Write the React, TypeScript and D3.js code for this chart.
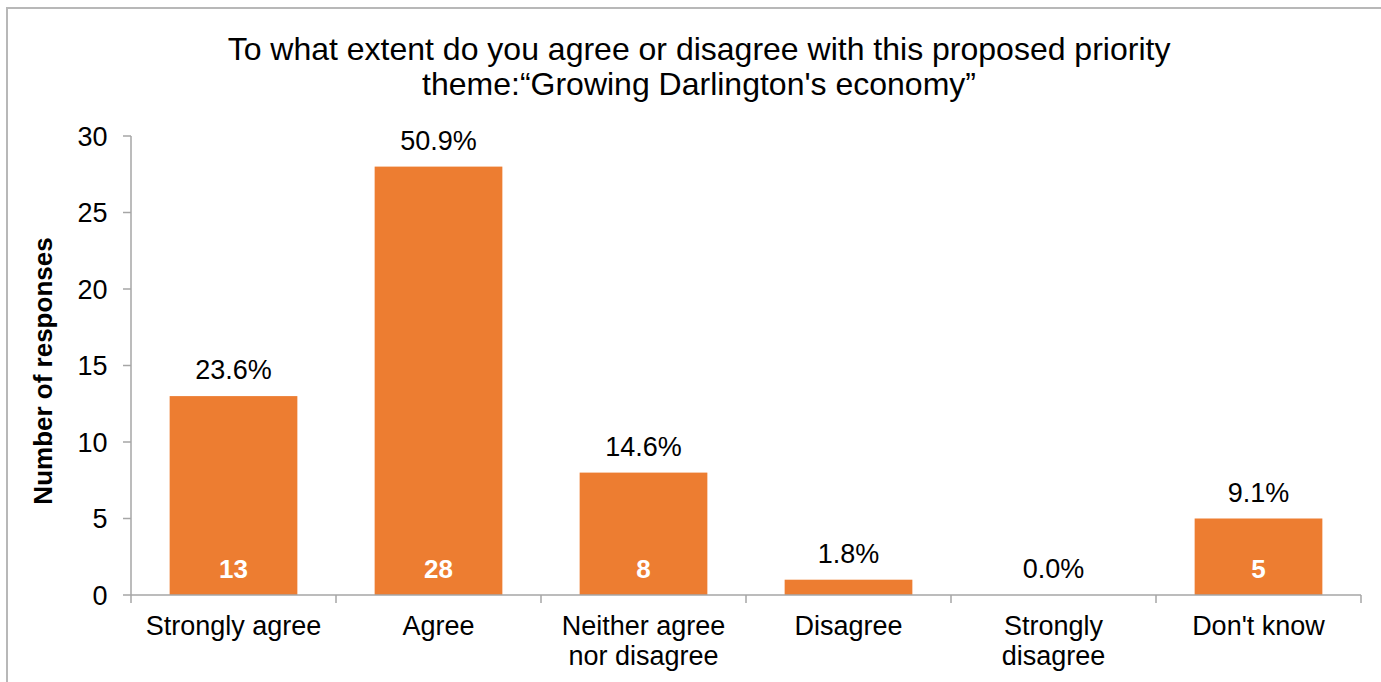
import React, { useEffect, useRef } from "react";
import * as d3 from "d3";

const categories: string[][] = [
  ["Strongly agree"],
  ["Agree"],
  ["Neither agree", "nor disagree"],
  ["Disagree"],
  ["Strongly", "disagree"],
  ["Don't know"],
];
const counts: number[] = [13, 28, 8, 1, 0, 5];
const percentLabels: string[] = ["23.6%", "50.9%", "14.6%", "1.8%", "0.0%", "9.1%"];
const yTicks: number[] = [0, 5, 10, 15, 20, 25, 30];
const titleLines: string[] = [
  "To what extent do you agree or disagree with this proposed priority",
  "theme:\u201CGrowing Darlington's economy\u201D",
];
const yAxisTitle = "Number of responses";

const W = 1381;
const H = 682;
const FONT = "'Liberation Sans', Arial, sans-serif";
const ORANGE = "#ED7D31";
const AXIS = "#A6A6A6";

export default function App() {
  const ref = useRef<SVGSVGElement | null>(null);

  useEffect(() => {
    const svg = d3.select(ref.current);
    svg.selectAll("*").remove();

    const keys = categories.map((_, i) => String(i));
    const x = d3
      .scaleBand<string>()
      .domain(keys)
      .range([131, 1361])
      .paddingInner(0.377)
      .paddingOuter(0.1885);
    const y = d3.scaleLinear().domain([0, 30]).range([595, 136]);

    // outer border
    svg
      .append("rect")
      .attr("x", 7)
      .attr("y", 8)
      .attr("width", W + 20)
      .attr("height", H + 20)
      .attr("fill", "#fff")
      .attr("stroke", "#B8B8B8")
      .attr("stroke-width", 2);

    // title
    svg
      .append("g")
      .selectAll("text")
      .data(titleLines)
      .join("text")
      .attr("x", 699)
      .attr("y", (_, i) => 60 + i * 35)
      .attr("text-anchor", "middle")
      .attr("font-family", FONT)
      .attr("font-size", 32)
      .attr("fill", "#000")
      .text((d) => d);

    // bars
    svg
      .append("g")
      .selectAll("rect")
      .data(counts)
      .join("rect")
      .attr("x", (_, i) => x(String(i))!)
      .attr("y", (d) => y(d))
      .attr("width", x.bandwidth())
      .attr("height", (d) => y(0) - y(d))
      .attr("fill", ORANGE);

    // y axis
    const ya = svg.append("g");
    ya.append("line")
      .attr("x1", 131)
      .attr("x2", 131)
      .attr("y1", y(30))
      .attr("y2", y(0))
      .attr("stroke", AXIS)
      .attr("stroke-width", 1.5);
    ya.selectAll("line.t")
      .data(yTicks)
      .join("line")
      .attr("class", "t")
      .attr("x1", 123)
      .attr("x2", 131)
      .attr("y1", (d) => y(d))
      .attr("y2", (d) => y(d))
      .attr("stroke", AXIS)
      .attr("stroke-width", 1.5);
    ya.selectAll("text")
      .data(yTicks)
      .join("text")
      .attr("x", 107.5)
      .attr("y", (d) => y(d) + 9.5)
      .attr("text-anchor", "end")
      .attr("font-family", FONT)
      .attr("font-size", 27)
      .attr("fill", "#000")
      .text((d) => String(d));

    // x axis
    const xa = svg.append("g");
    xa.append("line")
      .attr("x1", 131)
      .attr("x2", 1361)
      .attr("y1", y(0))
      .attr("y2", y(0))
      .attr("stroke", AXIS)
      .attr("stroke-width", 1.5);
    const bounds = keys.map((k) => x(k)! - (x.step() - x.bandwidth()) / 2);
    bounds.push(1361);
    xa.selectAll("line.t")
      .data(bounds)
      .join("line")
      .attr("class", "t")
      .attr("x1", (d) => d)
      .attr("x2", (d) => d)
      .attr("y1", y(0))
      .attr("y2", y(0) + 8)
      .attr("stroke", AXIS)
      .attr("stroke-width", 1.5);
    const labels = xa
      .selectAll("text")
      .data(categories)
      .join("text")
      .attr("text-anchor", "middle")
      .attr("font-family", FONT)
      .attr("font-size", 27)
      .attr("fill", "#000");
    labels.each(function (lines, i) {
      const cx = x(String(i))! + x.bandwidth() / 2;
      d3.select(this)
        .selectAll("tspan")
        .data(lines)
        .join("tspan")
        .attr("x", cx)
        .attr("y", (_, j) => 635 + j * 30)
        .text((d) => d);
    });

    // percent labels
    svg
      .append("g")
      .selectAll("text")
      .data(counts)
      .join("text")
      .attr("x", (_, i) => x(String(i))! + x.bandwidth() / 2)
      .attr("y", (d) => y(d) - 17)
      .attr("text-anchor", "middle")
      .attr("font-family", FONT)
      .attr("font-size", 27)
      .attr("fill", "#000")
      .text((_, i) => percentLabels[i]);

    // count labels inside bars
    svg
      .append("g")
      .selectAll("text")
      .data(counts.map((c, i) => ({ c, i })).filter((d) => d.c >= 2))
      .join("text")
      .attr("x", (d) => x(String(d.i))! + x.bandwidth() / 2)
      .attr("y", y(0) - 17)
      .attr("text-anchor", "middle")
      .attr("font-family", FONT)
      .attr("font-size", 26)
      .attr("font-weight", "bold")
      .attr("fill", "#fff")
      .text((d) => String(d.c));

    // y axis title
    svg
      .append("text")
      .attr("transform", "translate(52,371) rotate(-90)")
      .attr("text-anchor", "middle")
      .attr("font-family", FONT)
      .attr("font-size", 26)
      .attr("font-weight", "bold")
      .attr("fill", "#000")
      .text(yAxisTitle);
  }, []);

  return (
    <svg
      ref={ref}
      width={W}
      height={H}
      style={{ position: "absolute", left: 0, top: 0, display: "block" }}
    />
  );
}
